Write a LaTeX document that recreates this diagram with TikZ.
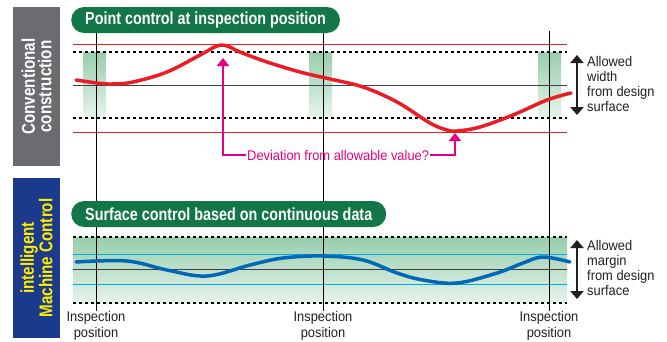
\documentclass[tikz,border=0pt]{standalone}
\usepackage{fontspec}
\setmainfont{Liberation Sans}[FakeStretch=0.92]
\newfontfamily\condbf{Liberation Sans}[FakeStretch=0.82]
\usepackage{tikz}
\usetikzlibrary{positioning,arrows.meta}

\definecolor{pillgreen}{RGB}{18,118,72}
\definecolor{sidegray}{RGB}{108,108,112}
\definecolor{sideblue}{RGB}{28,58,140}
\definecolor{imcyellow}{RGB}{255,236,0}
\definecolor{limred}{RGB}{236,28,36}
\definecolor{devpink}{RGB}{232,0,128}
\definecolor{tolgreen}{RGB}{150,205,172}
\definecolor{tolpale}{RGB}{232,244,236}
\definecolor{curveblue}{RGB}{0,104,183}
\definecolor{lineblue}{RGB}{0,170,230}
\definecolor{textgray}{RGB}{35,31,32}

\tikzset{
  pill/.style={fill=pillgreen, rounded corners=13pt, minimum height=26pt, inner xsep=14pt,
    inner ysep=0pt, text=white, anchor=west, font=\condbf\bfseries\fontsize{17.5}{18}\selectfont},
  sidebox/.style={rotate=90, minimum width=159pt, minimum height=47pt, inner sep=0pt,
    align=center, font=\condbf\bfseries\fontsize{18.5}{16.5}\selectfont},
  tolline/.style={black, line width=2pt, dash pattern=on 3pt off 3pt},
  limline/.style={limred, line width=0.9pt},
  designline/.style={black!75, line width=1pt},
  inspline/.style={black, line width=0.9pt},
  note/.style={text=textgray, align=left, inner sep=0pt, font=\fontsize{14}{15}\selectfont},
  insplabel/.style={text=textgray, align=center, inner sep=1pt, font=\fontsize{14}{15.5}\selectfont},
  dblarrow/.style={{Triangle[length=8pt,width=13pt]}-{Triangle[length=8pt,width=13pt]}, textgray, line width=2.5pt},
  devarrow/.style={-{Triangle[length=8pt,width=12pt]}, devpink, line width=2pt}
}

\begin{document}
\begin{tikzpicture}[x=1pt,y=-1pt]
\useasboundingbox (0,0) rectangle (667,341);

% Side boxes
\node[sidebox, fill=sidegray, text=white] (conv) at (36.5,86.5) {Conventional\\construction};
\node[sidebox, fill=sideblue, text=imcyellow, minimum width=160pt] (imc) at (36.5,258) {intelligent\\Machine Control};

% Upper panel: tolerance bands at inspection positions
\foreach \xl in {83,309,538}
  \fill[top color=tolgreen, bottom color=tolpale] (\xl,52) rectangle ++(23,66);
\draw[limline] (73,44) -- (567,44);
\draw[limline] (73,132) -- (567,132);
\draw[tolline] (73,52) -- (567,52);
\draw[tolline] (73,118) -- (567,118);
\draw[designline] (73,85) -- (567,85);

% Lower panel: continuous band
\fill[top color=tolgreen, bottom color=tolpale] (73,237) rectangle (567,303);
\draw[tolline] (73,237) -- (567,237);
\draw[tolline] (73,303) -- (567,303);
\draw[lineblue, line width=1pt] (73,254) -- (567,254);
\draw[lineblue, line width=1pt] (73,284) -- (567,284);
\draw[designline] (73,269) -- (567,269);

% Inspection positions
\node[insplabel] (insp1) at (96,326) {Inspection\\position};
\node[insplabel] (insp2) at (323,326) {Inspection\\position};
\node[insplabel] (insp3) at (549,326) {Inspection\\position};
\foreach \n/\xi in {1/96,2/323,3/549}
  \draw[inspline] (\xi,31) -- (insp\n.north);

% Measured surfaces
\draw[limred, line width=3.5pt, line cap=round] plot[smooth, tension=0.6] coordinates {
  (76,80) (97,83) (112,84) (133,82) (167,72) (200,55) (217,46) (227,46) (240,52)
  (267,62) (300,72) (330,79) (363,87) (397,102) (430,123) (447,130) (457,131)
  (480,127) (513,115) (547,100) (571,93)};
\draw[curveblue, line width=3.5pt, line cap=round] plot[smooth, tension=0.6] coordinates {
  (76,262) (127,261) (167,270) (207,276) (250,265) (283,258) (323,256) (363,260)
  (397,273) (423,280) (457,283) (497,273) (523,263) (543,257) (570,262)};

% Titles
\node[pill] (title1) at (71,20) {Point control at inspection position};
\node[pill] (title2) at (71,214) {Surface control based on continuous data};

% Deviation callout
\coordinate (peak) at (223,58);
\coordinate (trough) at (455,133);
\node[text=devpink, anchor=west, inner sep=0pt, font=\fontsize{14}{15}\selectfont] (dev) at (247,155) {Deviation from allowable value?};
\draw[devarrow] ([xshift=-1pt]dev.west) -| (peak);
\draw[devarrow] ([xshift=1pt]dev.east) -| (trough);

% Allowed ranges
\coordinate (wtop) at (577,55);
\coordinate (wbot) at (577,115);
\draw[dblarrow] (wtop) -- (wbot);
\node[note, anchor=north west] (wnote) at (587,56) {Allowed\\width\\from design\\surface};
\coordinate (mtop) at (577,240);
\coordinate (mbot) at (577,299);
\draw[dblarrow] (mtop) -- (mbot);
\node[note, anchor=north west] (mnote) at (587,240) {Allowed\\margin\\from design\\surface};
\end{tikzpicture}
\end{document}
